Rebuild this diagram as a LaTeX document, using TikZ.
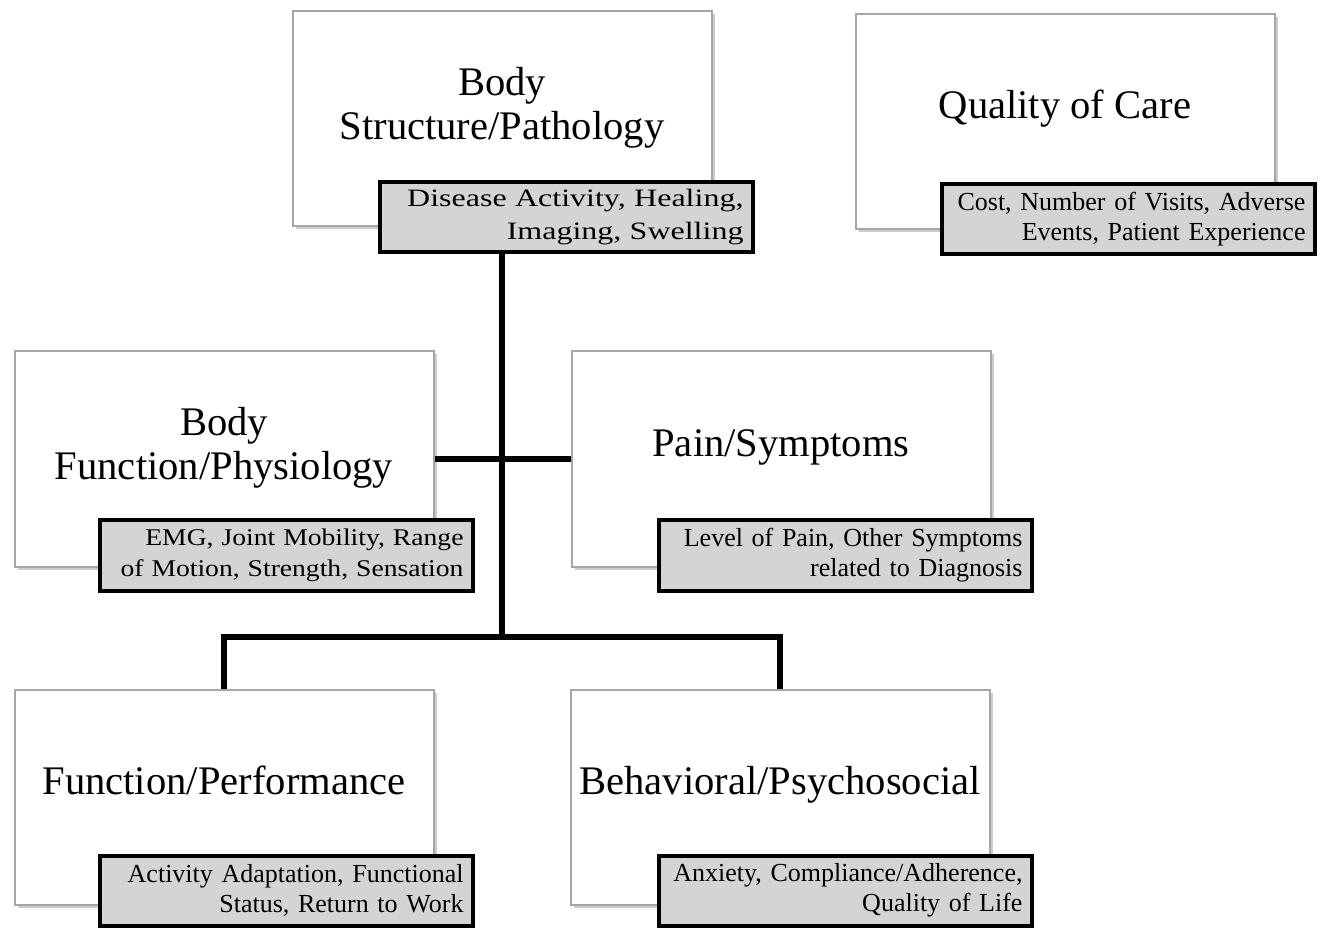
\documentclass[tikz,border=0pt]{standalone}
\usepackage{fontspec}
\setmainfont{Liberation Serif}
\newfontfamily\widefont[FakeStretch=1.28]{Liberation Serif}
\newfontfamily\midfont[FakeStretch=1.15]{Liberation Serif}
\usetikzlibrary{positioning,shadows}
\definecolor{boxedge}{HTML}{A6A6A6}
\definecolor{subfill}{HTML}{D4D4D4}

\begin{document}
\begin{tikzpicture}[x=0.5pt,y=-0.5pt,
  bigbox/.style={draw=boxedge,line width=1pt,fill=white,inner sep=0pt,
    minimum width=209.5pt,minimum height=107.5pt,
    drop shadow={shadow xshift=1.5pt,shadow yshift=-1.5pt,opacity=0.4}},
  title/.style={font=\fontsize{20.3}{22}\selectfont,align=center,inner sep=0pt,text depth=4pt},
  subbox/.style={draw=black,line width=2pt,fill=subfill,anchor=south east,
    text width=177.5pt,align=right,inner xsep=4.5pt,inner ysep=0pt,minimum height=35pt,
    drop shadow={shadow xshift=1pt,shadow yshift=-1pt,opacity=0.25}},
  link/.style={line width=3pt}]
  \useasboundingbox (0,0) rectangle (1331,929);
  % top row
  \node[bigbox] (struct) at (502,119) {};
  \node[title] (structT) at ([yshift=6pt]struct.center) {Body\\Structure/Pathology};
  \node[subbox,font=\widefont\fontsize{12.5}{16.5}\selectfont] (disease)
    at ([xshift=21pt,yshift=-13.5pt]struct.south east) {Disease Activity, Healing,\\Imaging, Swelling};
  \node[bigbox] (care) at (1065,122) {};
  \node[title] (careT) at ([yshift=7pt]care.center) {Quality of Care};
  \node[subbox,font=\fontsize{13}{15}\selectfont] (cost)
    at ([xshift=20.5pt,yshift=-13pt]care.south east) {Cost, Number of Visits, Adverse\\Events, Patient Experience};
  % middle row
  \node[bigbox] (physio) at (224,459) {};
  \node[title] (physioT) at ([yshift=6pt]physio.center) {Body\\Function/Physiology};
  \node[subbox,font=\midfont\fontsize{12}{15.5}\selectfont] (emg)
    at ([xshift=20pt,yshift=-12.5pt]physio.south east) {EMG, Joint Mobility, Range\\of Motion, Strength, Sensation};
  \node[bigbox] (pain) at (781,459) {};
  \node[title] (painT) at ([yshift=6pt]pain.center) {Pain/Symptoms};
  \node[subbox,font=\fontsize{13}{15}\selectfont] (level)
    at ([xshift=21pt,yshift=-12.5pt]pain.south east) {Level of Pain, Other Symptoms\\related to Diagnosis};
  % bottom row
  \node[bigbox] (perf) at (224,797) {};
  \node[title] (perfT) at ([yshift=6.5pt]perf.center) {Function/Performance};
  \node[subbox,font=\fontsize{13}{15}\selectfont] (activity)
    at ([xshift=20pt,yshift=-11pt]perf.south east) {Activity Adaptation, Functional\\Status, Return to Work};
  \node[bigbox] (psych) at (780,797) {};
  \node[title] (psychT) at ([yshift=6.5pt]psych.center) {Behavioral/Psychosocial};
  \node[subbox,font=\fontsize{13}{15}\selectfont] (anxiety)
    at ([xshift=21.5pt,yshift=-11pt]psych.south east) {Anxiety, Compliance/Adherence,\\Quality of Life};
  % connectors
  \coordinate (hub) at (502,637);
  \draw[link] (struct.south |- disease.south) -- (hub);
  \draw[link] (physio.east) -- (pain.west);
  \draw[link] (perf.north) |- (hub) -| (psych.north);
\end{tikzpicture}
\end{document}
